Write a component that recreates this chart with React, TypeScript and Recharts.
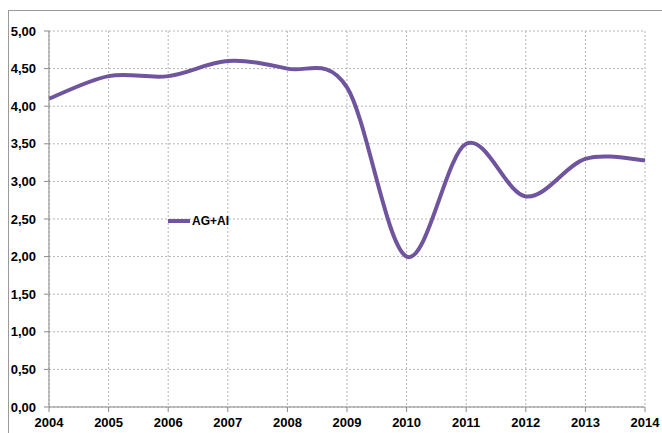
import { LineChart, Line, XAxis, YAxis, CartesianGrid, Legend } from 'recharts';

const years = [2004, 2005, 2006, 2007, 2008, 2009, 2010, 2011, 2012, 2013, 2014];
const agAi = [4.1, 4.4, 4.4, 4.6, 4.5, 4.25, 2.0, 3.5, 2.8, 3.3, 3.28];
const yTicks = [0, 0.5, 1, 1.5, 2, 2.5, 3, 3.5, 4, 4.5, 5];

const data = years.map((year, i) => ({ year, 'AG+AI': agAi[i] }));

// excel-like smoothed line (catmull-rom bezier)
const smoothCurve = (context: any) => {
  let pts: number[][] = [];
  return {
    areaStart() {},
    areaEnd() {},
    lineStart() { pts = []; },
    point(x: number, y: number) { pts.push([+x, +y]); },
    lineEnd() {
      if (!pts.length) return;
      context.moveTo(pts[0][0], pts[0][1]);
      for (let i = 0; i < pts.length - 1; i++) {
        const p0 = pts[i - 1] || pts[i];
        const p1 = pts[i];
        const p2 = pts[i + 1];
        const p3 = pts[i + 2] || p2;
        context.bezierCurveTo(
          p1[0] + (p2[0] - p0[0]) / 6, p1[1] + (p2[1] - p0[1]) / 6,
          p2[0] - (p3[0] - p1[0]) / 6, p2[1] - (p3[1] - p1[1]) / 6,
          p2[0], p2[1]
        );
      }
    },
  };
};

const fmt = (v: number) => v.toFixed(2).replace('.', ',');

const tickStyle = { fill: '#000', fontSize: 13, fontWeight: 700, fontFamily: 'Liberation Sans, Arial, sans-serif' };

const renderLegend = (props: any) => (
  <div style={{ display: 'flex', alignItems: 'center' }}>
    {props.payload.map((p: any) => (
      <div key={p.value} style={{ display: 'flex', alignItems: 'center' }}>
        <div style={{ width: 22, height: 4, background: p.color, marginRight: 2 }} />
        <span style={{ fontSize: 12, fontWeight: 700, fontFamily: 'Liberation Sans, Arial, sans-serif', color: '#000' }}>{p.value}</span>
      </div>
    ))}
  </div>
);

export default function App() {
  return (
    <div style={{ position: 'absolute', left: 0, top: 0, width: 662, height: 433, background: '#fff', overflow: 'hidden' }}>
      <div style={{ position: 'absolute', left: 8, top: 10, width: 700, height: 500, borderLeft: '1px solid #9a9a9a', borderTop: '1px solid #9a9a9a' }} />
      <LineChart width={662} height={433} data={data} margin={{ top: 31, right: 17, left: 8, bottom: 0 }}>
        <CartesianGrid stroke="#b5b5b5" strokeDasharray="2 2" />
        <XAxis
          dataKey="year"
          type="number"
          domain={[2004, 2014]}
          ticks={years}
          height={26}
          stroke="#8a8a8a"
          tickSize={5}
          tickMargin={6}
          tick={tickStyle}
        />
        <YAxis
          domain={[0, 5]}
          ticks={yTicks}
          width={41}
          stroke="#8a8a8a"
          tickSize={5}
          tickMargin={8}
          tickFormatter={fmt}
          tick={tickStyle}
        />
        <Legend
          layout="horizontal"
          verticalAlign="middle"
          align="center"
          content={renderLegend}
          wrapperStyle={{ left: 168, top: 214, width: 100 }}
        />
        <Line
          type={smoothCurve as any}
          dataKey="AG+AI"
          stroke="#6f559d"
          strokeWidth={4}
          dot={false}
          activeDot={false}
          isAnimationActive={false}
        />
      </LineChart>
    </div>
  );
}
